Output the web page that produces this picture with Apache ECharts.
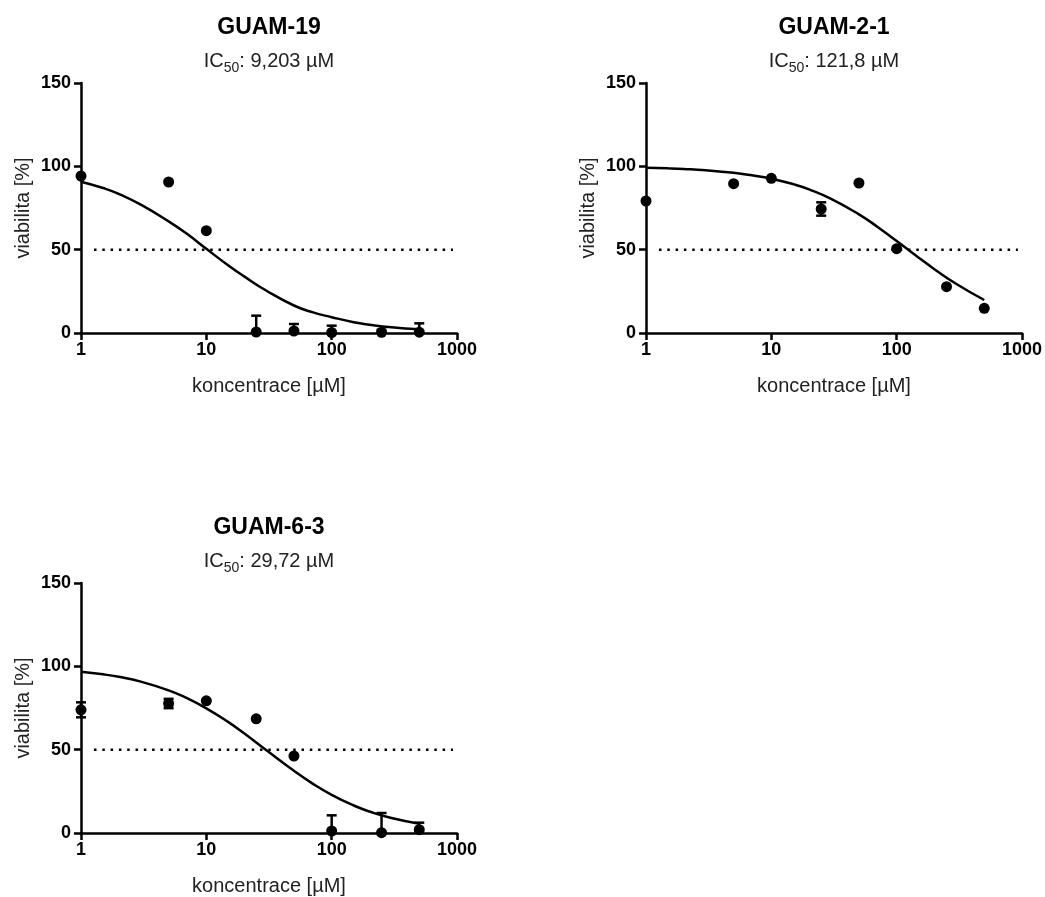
<!DOCTYPE html>
<html>
<head>
<meta charset="utf-8">
<title>viabilita</title>
<script src="https://cdn.jsdelivr.net/npm/echarts@6/dist/echarts.min.js"></script>
<style>
  html, body { margin: 0; padding: 0; background: #ffffff; }
  #chart { width: 1045px; height: 897px; }
</style>
</head>
<body>
<div id="chart"></div>
<script>
// koncentrace [µM]
const conc = [1, 5, 10, 25, 50, 100, 250, 500]
// x positions used for the fitted curves
const fitX = [1, 1.5, 2, 3, 5, 7, 10, 15, 20, 30, 50, 70, 100, 150, 200, 300, 500]
const xTicks = [1, 10, 100, 1000]
const yTicks = [0, 50, 100, 150]
const halfLevel = 50
const halfLineX = [1.27, 928]

const names = ['GUAM-19', 'GUAM-2-1', 'GUAM-6-3']
const ic50Text = ['9,203', '121,8', '29,72']

// GUAM-19
const g19Mean = [94.2, 90.6, 61.4, 0.6, 1.2, 0.3, 0.4, 0.5]
const g19Err = [0, 0, 0, 9.8, 4.2, 4.1, 1.5, 5.3]
const g19Fit = [90.8, 87.0, 83.5, 77.0, 67.0, 59.5, 50.5, 40.5, 34.0, 25.5, 16.5, 12.5, 9.5, 6.5, 5.0, 3.4, 2.2]

// GUAM-2-1
const g21Mean = [79.2, 89.6, 92.8, 74.4, 90.0, 50.6, 27.8, 14.8]
const g21Err = [0, 0, 0, 4.0, 0, 0, 0, 0]
const g21Fit = [99.2, 98.8, 98.4, 97.6, 96.1, 94.6, 92.6, 89.3, 86.2, 80.5, 71.2, 63.8, 55.2, 45.2, 38.3, 29.4, 19.8]

// GUAM-6-3
const g63Mean = [73.9, 77.7, 79.3, 68.5, 46.2, 1.2, 0.2, 2.0]
const g63Err = [4.5, 2.8, 0, 0, 0, 9.4, 11.8, 4.2]
const g63Fit = [96.7, 95.2, 93.7, 90.8, 85.6, 80.9, 74.8, 66.5, 59.8, 49.8, 37.3, 29.8, 22.9, 16.5, 12.9, 9.0, 5.6]

const means = [g19Mean, g21Mean, g63Mean]
const errs = [g19Err, g21Err, g63Err]
const fits = [g19Fit, g21Fit, g63Fit]

// panel placement (grid left/top in px)
const panelLeft = [81, 646, 81]
const panelTop = [83, 83, 583]
const plotW = 376
const plotH = 250

const FONT = "'Liberation Sans', Arial, sans-serif"

const chart = echarts.init(document.getElementById('chart'))

const grids = []
const xAxes = []
const yAxes = []
const titles = []
const series = []

for (let i = 0; i < 3; i++) {
  const cx = panelLeft[i] + plotW / 2
  grids.push({left: panelLeft[i], top: panelTop[i], width: plotW, height: plotH})

  titles.push({
    text: names[i],
    left: cx,
    top: panelTop[i] - 67,
    textAlign: 'center',
    padding: 0,
    textStyle: {fontFamily: FONT, fontSize: 23, fontWeight: 'bold', color: '#000'}
  })
  titles.push({
    text: '{b|IC}{s|50}{b|: ' + ic50Text[i] + ' µM}',
    left: cx,
    top: panelTop[i] - 32,
    textAlign: 'center',
    padding: 0,
    textStyle: {
      fontFamily: FONT,
      fontWeight: 'normal',
      rich: {
        b: {fontFamily: FONT, fontSize: 20, fontWeight: 'normal', lineHeight: 24, verticalAlign: 'top', color: '#222'},
        s: {fontFamily: FONT, fontSize: 14, fontWeight: 'normal', lineHeight: 14, padding: [11, 0, 0, 0], verticalAlign: 'bottom', color: '#222'}
      }
    }
  })

  xAxes.push({
    gridIndex: i,
    type: 'log',
    logBase: 10,
    min: xTicks[0],
    max: xTicks[xTicks.length - 1],
    name: 'koncentrace [µM]',
    nameLocation: 'middle',
    nameGap: 43,
    nameTextStyle: {fontFamily: FONT, fontSize: 20, color: '#222'},
    axisLine: {onZero: false, lineStyle: {color: '#000', width: 2.5}},
    axisTick: {length: 7, lineStyle: {color: '#000', width: 2.5}},
    minorTick: {show: false},
    splitLine: {show: false},
    axisLabel: {
      margin: 8,
      fontFamily: FONT,
      fontSize: 18,
      fontWeight: 'bold',
      color: '#000',
      formatter: v => String(v)
    }
  })
  yAxes.push({
    gridIndex: i,
    type: 'value',
    min: yTicks[0],
    max: yTicks[yTicks.length - 1],
    interval: yTicks[1] - yTicks[0],
    name: 'viabilita [%]',
    nameLocation: 'middle',
    nameGap: 48,
    nameTextStyle: {fontFamily: FONT, fontSize: 20, color: '#222'},
    axisLine: {show: true, lineStyle: {color: '#000', width: 2.5}},
    axisTick: {show: true, length: 7, lineStyle: {color: '#000', width: 2.5}},
    splitLine: {show: false},
    axisLabel: {margin: 10, fontFamily: FONT, fontSize: 18, fontWeight: 'bold', color: '#000'}
  })

  // dotted 50 % line
  series.push({
    type: 'line',
    xAxisIndex: i,
    yAxisIndex: i,
    data: halfLineX.map(x => [x, halfLevel]),
    symbol: 'none',
    silent: true,
    lineStyle: {color: '#000', width: 2.5, type: [2.5, 5.8]},
    z: 1
  })
  // fitted curve
  series.push({
    type: 'line',
    xAxisIndex: i,
    yAxisIndex: i,
    data: fitX.map((x, k) => [x, fits[i][k]]),
    smooth: true,
    symbol: 'none',
    lineStyle: {color: '#000', width: 2.5},
    z: 2
  })
  // error bars
  series.push({
    type: 'custom',
    xAxisIndex: i,
    yAxisIndex: i,
    data: conc.map((c, k) => [c, means[i][k], errs[i][k]]),
    renderItem: function (params, api) {
      const x = api.value(0)
      const v = api.value(1)
      const e = api.value(2)
      if (!e) return null
      const top = api.coord([x, v + e])
      const low = api.coord([x, Math.max(v - e, 0)])
      const st = {stroke: '#000', lineWidth: 2.5}
      const kids = [
        {type: 'line', shape: {x1: top[0], y1: top[1], x2: low[0], y2: low[1]}, style: st},
        {type: 'line', shape: {x1: top[0] - 5, y1: top[1], x2: top[0] + 5, y2: top[1]}, style: st}
      ]
      if (v - e > 0) {
        kids.push({type: 'line', shape: {x1: low[0] - 5, y1: low[1], x2: low[0] + 5, y2: low[1]}, style: st})
      }
      return {type: 'group', children: kids}
    },
    z: 3
  })
  // mean points
  series.push({
    type: 'scatter',
    xAxisIndex: i,
    yAxisIndex: i,
    data: conc.map((c, k) => [c, means[i][k]]),
    symbol: 'circle',
    symbolSize: 11,
    clip: false,
    itemStyle: {color: '#000', opacity: 1},
    z: 4
  })
}

chart.setOption({
  animation: false,
  backgroundColor: '#ffffff',
  title: titles,
  grid: grids,
  xAxis: xAxes,
  yAxis: yAxes,
  series: series
})
</script>
</body>
</html>
